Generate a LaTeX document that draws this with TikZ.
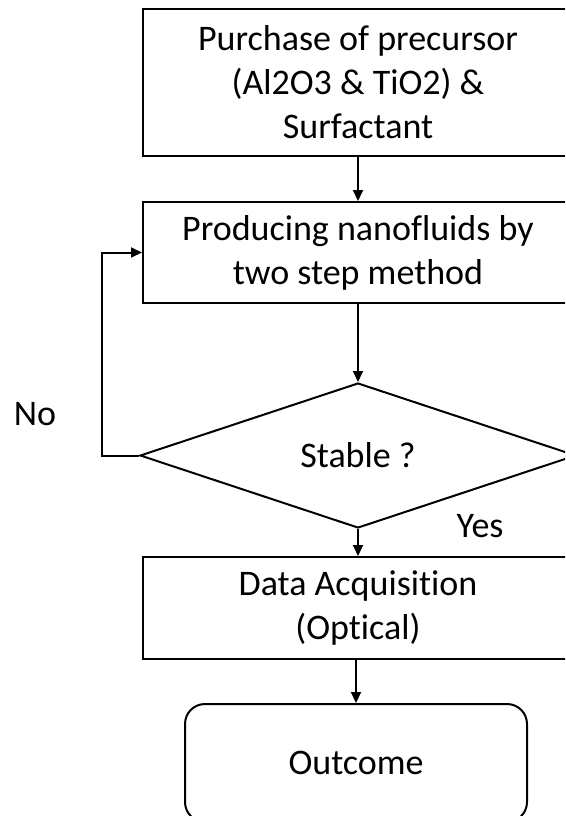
\documentclass[tikz,border=0pt]{standalone}
\usepackage{fontspec}
\setmainfont[Ligatures=NoCommon]{Carlito}
\usetikzlibrary{arrows.meta,positioning,shapes.geometric}

\begin{document}
\begin{tikzpicture}[x=1pt,y=-1pt,
    procbox/.style={draw, line width=2pt, minimum width=430pt, inner sep=0pt, align=center},
    decbox/.style={draw, diamond, line width=2pt, minimum width=436pt, minimum height=145pt, inner sep=0pt},
    endbox/.style={draw, rounded corners=20pt, line width=2pt, minimum width=342pt, minimum height=118pt, inner sep=0pt},
    flow/.style={-{Triangle[length=11pt,width=10pt]}, line width=2pt},
    every node/.style={font=\fontsize{36}{44}\selectfont}]
    % Page frame
    \useasboundingbox (0,0) rectangle (565,816);
    \clip (0,0) rectangle (565,816);
    \fill[white] (0,0) rectangle (565,816);
    % Steps
    \node[procbox, minimum height=147pt] (purchase) at (358,82.5)
      {Purchase of precursor\\(Al2O3 \& TiO2) \&\\Surfactant};
    \node[procbox, minimum height=101pt] (produce) at (358,252.5)
      {Producing nanofluids by\\two step method};
    \node[decbox] (stable) at (358,455.5) {Stable ?};
    \node[procbox, minimum height=102pt] (acquire) at (358,608)
      {Data Acquisition\\(Optical)};
    \node[endbox] (outcome) at (356,763) {Outcome};
    % Labels
    \node (nolbl) at (35,414) {No};
    \node (yeslbl) at (480,526) {Yes};
    % Arrows
    \draw[flow] (purchase) -- (produce);
    \draw[flow] (produce) -- (stable);
    \draw[flow] (stable) -- (acquire);
    \draw[flow] (acquire.south -| outcome.north) -- (outcome);
    % Loop back on No
    \coordinate (loopx) at (102,455.5);
    \draw[flow] (stable.west) -- (loopx) |- (produce.west);
  \end{tikzpicture}
\end{document}
